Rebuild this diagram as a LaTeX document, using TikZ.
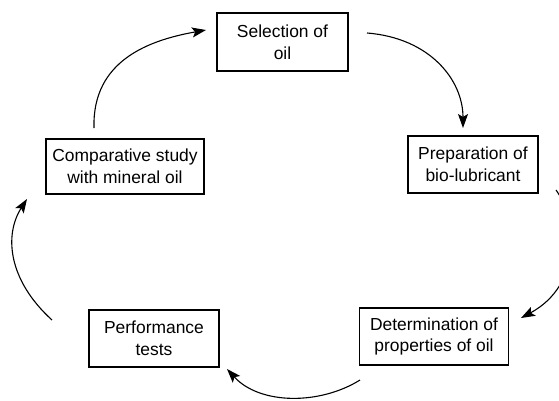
\documentclass[tikz,border=0pt]{standalone}
\usepackage{fontspec}
\setmainfont{Liberation Sans}
\usetikzlibrary{arrows.meta}
\begin{document}
\begin{tikzpicture}[x=1bp,y=-1bp,
  stepbox/.style={draw=black,line width=1.2bp,align=center,inner sep=0pt,
    font=\fontsize{17.5}{22}\selectfont},
  flow/.style={line width=1.1bp,-{Stealth[length=14bp,width=10bp,inset=3bp]}}]
\useasboundingbox[fill=white] (0,0) rectangle (559,400);
\node[stepbox,minimum width=131bp,minimum height=58bp] (sel) at (282.5,42) {Selection of\\oil};
\node[stepbox,minimum width=130bp,minimum height=57bp] (prep) at (473,164.5) {Preparation of\\bio-lubricant};
\node[stepbox,minimum width=158bp,minimum height=55bp] (comp) at (125,166.5) {Comparative study\\with mineral oil};
\node[stepbox,minimum width=130bp,minimum height=57bp] (perf) at (154,338.5) {Performance\\tests};
\node[stepbox,minimum width=149bp,minimum height=57bp] (det) at (434,336.5) {Determination of\\properties of oil};
\coordinate (a1s) at (367,33);
\coordinate (a1e) at (463,128);
\coordinate (a2s) at (556,190);
\coordinate (a2e) at (521,318);
\coordinate (a3s) at (360,380);
\coordinate (a3e) at (227,369);
\coordinate (a4s) at (52,320);
\coordinate (a4e) at (27,199);
\coordinate (a5s) at (94,128);
\coordinate (a5e) at (206,30);
\draw[flow] (a1s) .. controls (430,38) and (463,80) .. (a1e);
\draw[flow] (a2s) .. controls (578,220) and (582,285) .. (a2e);
\draw[flow] (a3s) .. controls (320,405) and (260,405) .. (a3e);
\draw[flow] (a4s) .. controls (8,280) and (4,235) .. (a4e);
\draw[flow] (a5s) .. controls (92,60) and (150,40) .. (a5e);
\end{tikzpicture}
\end{document}
